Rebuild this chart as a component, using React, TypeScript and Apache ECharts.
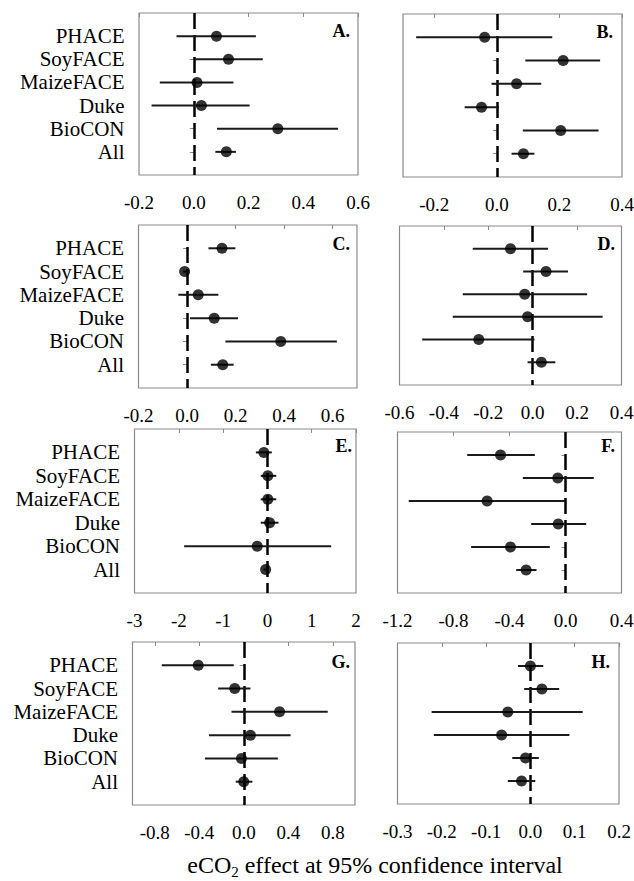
import React, { useEffect, useRef } from "react";
import * as echarts from "echarts";

const sites = ["PHACE", "SoyFACE", "MaizeFACE", "Duke", "BioCON", "All"];

const estA = [0.083, 0.127, 0.012, 0.028, 0.307, 0.119];
const lowA = [-0.063, 0.004, -0.124, -0.154, 0.085, 0.079];
const highA = [0.227, 0.252, 0.145, 0.204, 0.527, 0.154];

const estB = [-0.039, 0.212, 0.063, -0.049, 0.204, 0.085];
const lowB = [-0.258, 0.091, -0.017, -0.103, 0.083, 0.047];
const highB = [0.177, 0.33, 0.142, 0.007, 0.325, 0.12];

const estC = [0.144, -0.01, 0.046, 0.112, 0.386, 0.147];
const lowC = [0.088, -0.016, -0.036, 0.012, 0.158, 0.098];
const highC = [0.199, -0.004, 0.129, 0.21, 0.617, 0.192];

const estD = [-0.1, 0.06, -0.036, -0.023, -0.243, 0.039];
const lowD = [-0.27, -0.043, -0.315, -0.36, -0.498, -0.023];
const highD = [0.069, 0.159, 0.245, 0.315, 0.008, 0.102];

const estE = [-0.08, 0.01, 0.01, 0.05, -0.23, -0.04];
const lowE = [-0.26, -0.15, -0.15, -0.15, -1.88, -0.08];
const highE = [0.1, 0.2, 0.2, 0.25, 1.44, 0.0];

const estF = [-0.464, -0.055, -0.56, -0.052, -0.393, -0.281];
const lowF = [-0.702, -0.305, -1.12, -0.245, -0.674, -0.352];
const highF = [-0.219, 0.202, -0.005, 0.148, -0.112, -0.207];

const estG = [-0.409, -0.081, 0.322, 0.06, -0.021, 0.0];
const lowG = [-0.737, -0.23, -0.11, -0.313, -0.349, -0.072];
const highG = [-0.09, 0.06, 0.755, 0.421, 0.307, 0.078];

const estH = [0.0, 0.026, -0.051, -0.065, -0.011, -0.02];
const lowH = [-0.028, -0.014, -0.223, -0.218, -0.041, -0.051];
const highH = [0.029, 0.065, 0.118, 0.088, 0.019, 0.011];

const rangeA = [-0.2, 0.6];
const rangeB = [-0.3, 0.4];
const rangeC = [-0.2, 0.7];
const rangeD = [-0.6, 0.4];
const rangeE = [-3, 2];
const rangeF = [-1.2, 0.4];
const rangeG = [-1, 1];
const rangeH = [-0.3, 0.2];

const ticksA = ["-0.2", "0.0", "0.2", "0.4", "0.6"];
const ticksB = ["-0.2", "0.0", "0.2", "0.4"];
const ticksC = ["-0.2", "0.0", "0.2", "0.4", "0.6"];
const ticksD = ["-0.6", "-0.4", "-0.2", "0.0", "0.2", "0.4"];
const ticksE = ["-3", "-2", "-1", "0", "1", "2"];
const ticksF = ["-1.2", "-0.8", "-0.4", "0.0", "0.4"];
const ticksG = ["-0.8", "-0.4", "0.0", "0.4", "0.8"];
const ticksH = ["-0.3", "-0.2", "-0.1", "0.0", "0.1", "0.2"];

const letters = ["A.", "B.", "C.", "D.", "E.", "F.", "G.", "H."];
const xTitleMain = "eCO";
const xTitleSub = "2";
const xTitleRest = " effect at 95% confidence interval";

const FONT = "Liberation Serif, Times New Roman, serif";
const BOX = "#8a8a8a";

export default function App() {
  const ref = useRef<HTMLDivElement>(null);

  useEffect(() => {
    const chart = echarts.init(ref.current!, null, { renderer: "svg" });

    const panels = [
      { est: estA, low: lowA, high: highA, range: rangeA, ticks: ticksA, box: [139, 13, 219, 162], lab: [350, 31], showY: true },
      { est: estB, low: lowB, high: highB, range: rangeB, ticks: ticksB, box: [403, 14, 219, 163], lab: [613, 32], showY: false },
      { est: estC, low: lowC, high: highC, range: rangeC, ticks: ticksC, box: [138.5, 225, 218.5, 163], lab: [350, 244], showY: true },
      { est: estD, low: lowD, high: highD, range: rangeD, ticks: ticksD, box: [399.5, 226, 222, 159], lab: [615, 244], showY: false },
      { est: estE, low: lowE, high: highE, range: rangeE, ticks: ticksE, box: [134.5, 429, 221.5, 164], lab: [352, 446], showY: true },
      { est: estF, low: lowF, high: highF, range: rangeF, ticks: ticksF, box: [397.5, 432, 224, 161], lab: [615, 446], showY: false },
      { est: estG, low: lowG, high: highG, range: rangeG, ticks: ticksG, box: [132.5, 642, 222.5, 163], lab: [350, 662], showY: true },
      { est: estH, low: lowH, high: highH, range: rangeH, ticks: ticksH, box: [397.5, 643, 221.5, 161], lab: [610, 662], showY: false },
    ];

    const rows = sites.map((_, i) => i + 1);
    const grid: any[] = [];
    const xAxis: any[] = [];
    const yAxis: any[] = [];
    const series: any[] = [];
    const graphic: any[] = [];

    panels.forEach((p, i) => {
      grid.push({
        left: p.box[0],
        top: p.box[1],
        width: p.box[2],
        height: p.box[3],
        show: true,
        borderColor: BOX,
        borderWidth: 1.2,
        backgroundColor: "transparent",
        containLabel: false,
        outerBoundsMode: "none",
      });
      const tickVals = p.ticks.map(Number);
      xAxis.push({
        gridIndex: i,
        type: "value",
        min: p.range[0],
        max: p.range[1],
        axisLine: { show: false },
        splitLine: { show: false },
        axisTick: {
          show: true,
          customValues: tickVals,
          length: 4,
          lineStyle: { color: BOX, width: 1 },
        },
        axisLabel: {
          customValues: tickVals,
          formatter: (v: number) => {
            const s = p.ticks.find((t) => Math.abs(Number(t) - v) < 1e-9);
            return s ?? String(v);
          },
          fontFamily: FONT,
          fontSize: 19,
          color: "#000",
          margin: 18,
        },
      });
      yAxis.push({
        gridIndex: i,
        type: "value",
        min: 0,
        max: 7,
        inverse: true,
        axisLine: { show: false },
        splitLine: { show: false },
        axisTick: {
          show: true,
          customValues: rows,
          length: 4,
          lineStyle: { color: BOX, width: 1 },
        },
        axisLabel: {
          show: p.showY,
          customValues: rows,
          formatter: (v: number) => sites[Math.round(v) - 1] ?? "",
          fontFamily: FONT,
          fontSize: 21,
          color: "#000",
          margin: 14.5,
        },
      });
      series.push({
        type: "custom",
        xAxisIndex: i,
        yAxisIndex: i,
        data: sites.map((_, k) => [p.low[k], p.high[k], k + 1]),
        encode: { x: [0, 1], y: 2 },
        renderItem: (params: any, api: any) => {
          const a = api.coord([api.value(0), api.value(2)]);
          const b = api.coord([api.value(1), api.value(2)]);
          return {
            type: "line",
            shape: { x1: a[0], y1: a[1], x2: b[0], y2: b[1] },
            style: { stroke: "#1a1a1a", lineWidth: 2 },
          };
        },
        markLine: {
          silent: true,
          symbol: ["none", "none"],
          label: { show: false },
          lineStyle: { color: "#000", width: 2.5, type: [16, 6] },
          data: [{ xAxis: 0 }],
          z: 2,
        },
        z: 3,
      });
      series.push({
        type: "scatter",
        xAxisIndex: i,
        yAxisIndex: i,
        data: sites.map((_, k) => [p.est[k], k + 1]),
        symbol: "circle",
        symbolSize: 11,
        itemStyle: { color: "#000" },
        z: 5,
      });
      graphic.push({
        type: "text",
        x: p.lab[0],
        y: p.lab[1],
        style: {
          text: letters[i],
          fontFamily: FONT,
          fontSize: 18,
          fontWeight: "bold",
          fill: "#000",
          align: "right",
          verticalAlign: "middle",
        },
      });
    });

    graphic.push({
      type: "text",
      x: 375,
      y: 872,
      style: {
        text: `{m|${xTitleMain}}{s|${xTitleSub}}{m|${xTitleRest}}`,
        align: "center",
        verticalAlign: "middle",
        rich: {
          m: { fontFamily: FONT, fontSize: 24, lineHeight: 24, verticalAlign: "top", fill: "#000", color: "#000" },
          s: { fontFamily: FONT, fontSize: 15, lineHeight: 38, verticalAlign: "middle", fill: "#000", color: "#000" },
        },
      },
    });

    chart.setOption({
      animation: false,
      backgroundColor: "#fff",
      grid,
      xAxis,
      yAxis,
      series,
      graphic,
    });

    return () => chart.dispose();
  }, []);

  return (
    <div
      ref={ref}
      style={{ position: "absolute", left: 0, top: 0, width: 634, height: 881 }}
    />
  );
}
